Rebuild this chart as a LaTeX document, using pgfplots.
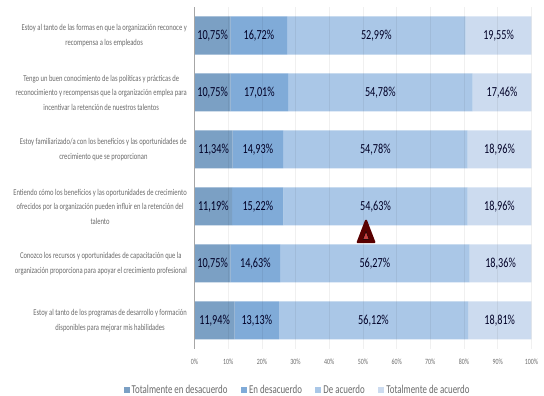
\documentclass[border=0pt]{standalone}
\usepackage{pgfplots}
\usepackage{pgfplotstable}
\usepackage{fontspec}
\pgfplotsset{compat=1.18}
\setmainfont[FakeStretch=0.74]{Carlito}

\definecolor{serA}{HTML}{7BA0C4}
\definecolor{serB}{HTML}{80ABD8}
\definecolor{serC}{HTML}{AAC7E7}
\definecolor{serD}{HTML}{CCDBEF}
\definecolor{labelgrey}{HTML}{6A6A6A}

% One table per response level; row 5 is the top statement.
\pgfplotstableread{
y v
5 10.75
4 10.75
3 11.34
2 11.19
1 10.75
0 11.94
}\totdes
\pgfplotstableread{
y v
5 16.72
4 17.01
3 14.93
2 15.22
1 14.63
0 13.13
}\endes
\pgfplotstableread{
y v
5 52.99
4 54.78
3 54.78
2 54.63
1 56.27
0 56.12
}\deac
\pgfplotstableread{
y v
5 19.55
4 17.46
3 18.96
2 18.96
1 18.36
0 18.81
}\totac

\begin{document}
\begin{tikzpicture}
\path[use as bounding box] (-194.5pt,-47pt) rectangle ++(544pt,396pt);
\begin{axis}[
  at={(0pt,0pt)}, anchor=south west,
  scale only axis, width=337pt, height=342pt,
  xbar stacked, bar width=38pt,
  % rows add up to 100.01 after rounding, so the limit leaves room for them
  xmin=0, xmax=100.02, ymin=-0.5, ymax=5.5,
  axis on top,
  axis x line*=bottom, axis y line*=left,
  x axis line style={draw=none}, y axis line style={draw=black!35, line width=0.6pt},
  xtick={0,10,...,100},
  xticklabel={\pgfmathprintnumber{\tick}\%},
  xticklabel style={font=\fontsize{8}{8}\selectfont, text=labelgrey, yshift=-7pt,
    /pgf/number format/assume math mode=true},
  major tick length=0pt,
  tick align=outside,
  xmajorgrids,
  grid style={draw=black, opacity=0.06, line width=0.6pt},
  ytick={0,1,2,3,4,5},
  yticklabels={
    {Estoy al tanto de los programas de desarrollo y formación\\disponibles para mejorar mis habilidades},
    {Conozco los recursos y oportunidades de capacitación que la\\organización proporciona para apoyar el crecimiento profesional},
    {Entiendo cómo los beneficios y las oportunidades de crecimiento\\ofrecidos por la organización pueden influir en la retención del\\talento},
    {Estoy familiarizado/a con los beneficios y las oportunidades de\\crecimiento que se proporcionan},
    {Tengo un buen conocimiento de las políticas y prácticas de\\reconocimiento y recompensas que la organización emplea para\\incentivar la retención de nuestros talentos},
    {Estoy al tanto de las formas en que la organización reconoce y\\recompensa a los empleados}},
  yticklabel style={align=center, text=labelgrey, inner sep=0pt, xshift=-7.5pt,
    font=\fontsize{8.9}{14.5}\selectfont},
  every axis plot/.append style={draw=none,
    point meta=\thisrow{v},
    nodes near coords={\pgfmathprintnumber[fixed, fixed zerofill, precision=2, use comma, assume math mode=true]{\pgfplotspointmeta}\%},
    nodes near coords style={anchor=center, text=black!85!blue,
      font=\fontsize{13.8}{15}\selectfont}},
  legend columns=4,
  legend style={at={(0.306,-0.12)}, anchor=center, draw=none, fill=none,
    font=\fontsize{12}{14}\selectfont, text=labelgrey, inner sep=0pt,
    /tikz/every even column/.append style={column sep=11.5pt}},
  legend cell align=left,
  legend image code/.code={\fill[#1] (0pt,-3pt) rectangle (6pt,3pt);},
]
\addplot[fill=serA] table[x=v,y=y] {\totdes};
\addplot[fill=serB] table[x=v,y=y] {\endes};
\addplot[fill=serC] table[x=v,y=y] {\deac};
\addplot[fill=serD] table[x=v,y=y] {\totac};
\legend{Totalmente en desacuerdo, En desacuerdo, De acuerdo, Totalmente de acuerdo}
\end{axis}
% Warning marker between the fourth and fifth bars
\begin{axis}[
  at={(0pt,0pt)}, anchor=south west,
  scale only axis, width=337pt, height=342pt,
  xmin=0, xmax=100, ymin=-0.5, ymax=5.5,
  hide axis, clip=false,
]
\addplot[only marks, mark=triangle*, mark size=9.5pt,
  mark options={yscale=1.5, draw=red!35!black, fill=red!35!black, line width=2.2pt, line join=round}]
  coordinates {(50.9,1.5)};
\addplot[only marks, mark=triangle*, mark size=3.6pt,
  mark options={yscale=1.5, draw=none, fill=red!70!black!75!white}]
  coordinates {(50.9,1.47)};
\end{axis}
\end{tikzpicture}
\end{document}
